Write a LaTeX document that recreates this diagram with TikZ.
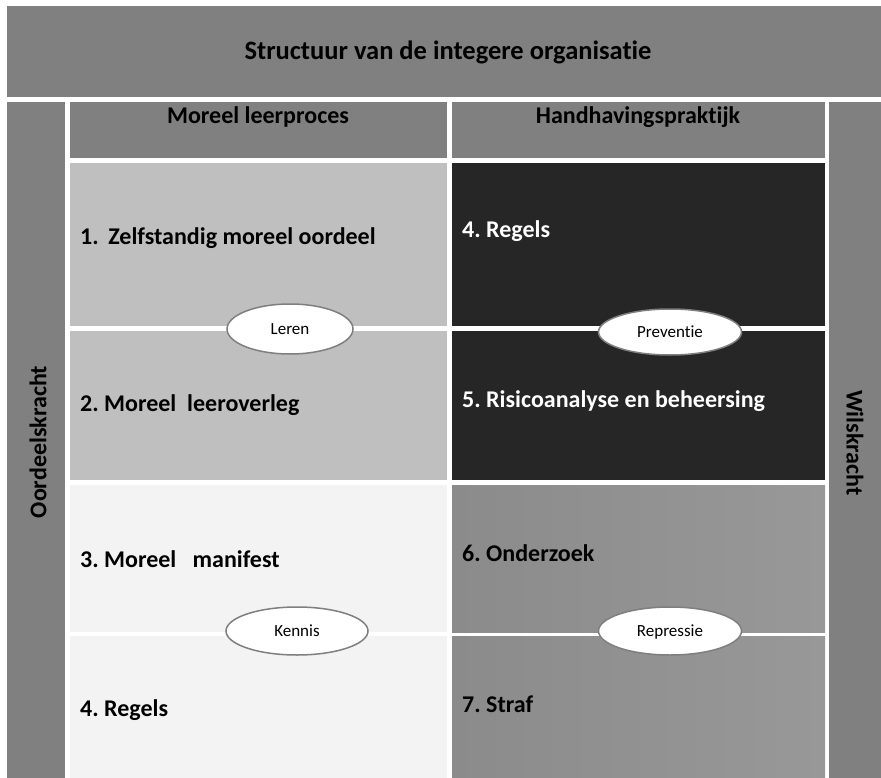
\documentclass[tikz,border=0pt]{standalone}
\usepackage{fontspec}
\setmainfont{Carlito}[Ligatures=NoCommon]
\usetikzlibrary{shapes.geometric}
\definecolor{midgray}{HTML}{808080}
\definecolor{lightcell}{HTML}{BFBFBF}
\definecolor{paleCell}{HTML}{F3F3F3}
\definecolor{darkcell}{HTML}{262626}
\definecolor{repleft}{HTML}{8B8B8B}
\definecolor{repright}{HTML}{989898}
\definecolor{ringgray}{HTML}{7F7F7F}
\tikzset{
  celltext/.style={anchor=west, inner sep=0pt, font=\fontsize{24}{28}\selectfont\bfseries},
  headtext/.style={inner sep=0pt, font=\fontsize{24}{28}\selectfont\bfseries},
  sidetext/.style={inner sep=0pt, font=\fontsize{24}{28}\selectfont\bfseries},
  tag/.style={ellipse, draw=ringgray, line width=1.5pt, fill=white, inner sep=0pt,
              text height=11pt, text depth=0pt,
              font=\fontsize{17}{20}\selectfont},
}
\begin{document}
\frenchspacing
\begin{tikzpicture}[x=1pt,y=-1pt]
\useasboundingbox (0,0) rectangle (881,778);
\fill[white] (0,0) rectangle (881,778);
% banner and side columns
\fill[midgray] (7,6) rectangle (881,97);
\fill[midgray] (7,102) rectangle (65,778);
\fill[midgray] (829,102) rectangle (881,778);
% headers
\fill[midgray] (70,102) rectangle (447,158);
\fill[midgray] (452,102) rectangle (825,158);
% left column cells
\fill[lightcell] (70,163) rectangle (447,326);
\fill[lightcell] (70,331) rectangle (447,480);
\fill[paleCell] (70,485) rectangle (447,632);
\fill[paleCell] (70,636) rectangle (447,778);
% right column cells
\fill[darkcell] (452,163) rectangle (825,326);
\fill[darkcell] (452,331) rectangle (825,480);
\shade[left color=repleft, right color=repright] (452,485) rectangle (825,632);
\shade[left color=repleft, right color=repright] (452,636) rectangle (825,778);
% texts
\node[inner sep=0pt, font=\fontsize{26.5}{30}\selectfont\bfseries] (title) at (448,52) {Structuur van de integere organisatie};
\node[headtext] (hl) at (258,117) {Moreel leerproces};
\node[headtext] (hr) at (638,117) {Handhavingspraktijk};
\node[sidetext, rotate=90] (ok) at (38,442) {Oordeelskracht};
\node[sidetext, rotate=-90] (wk) at (855,443) {Wilskracht};
\node[celltext] (t1) at (80,238) {1.\hspace{0.4em}Zelfstandig moreel oordeel};
\node[celltext] (t2) at (80,405) {2. Moreel\ \ leeroverleg};
\node[celltext] (t3) at (80,559) {3. Moreel\ \ \ manifest};
\node[celltext] (t4) at (80,710) {4. Regels};
\node[celltext, text=white] (r4) at (462,231) {4. Regels};
\node[celltext, text=white] (r5) at (462,401) {5. Risicoanalyse en beheersing};
\node[celltext] (r6) at (462,553) {6. Onderzoek};
\node[celltext] (r7) at (462,704) {7. Straf};
% ellipses
\node[tag, minimum width=126pt, minimum height=50pt] (leren) at (290,329) {Leren};
\node[tag, minimum width=143pt, minimum height=46pt] (prev) at (670,332) {Preventie};
\node[tag, minimum width=142pt, minimum height=48pt] (kennis) at (297,631) {Kennis};
\node[tag, minimum width=143pt, minimum height=48pt] (rep) at (670,631) {Repressie};
\end{tikzpicture}
\end{document}
